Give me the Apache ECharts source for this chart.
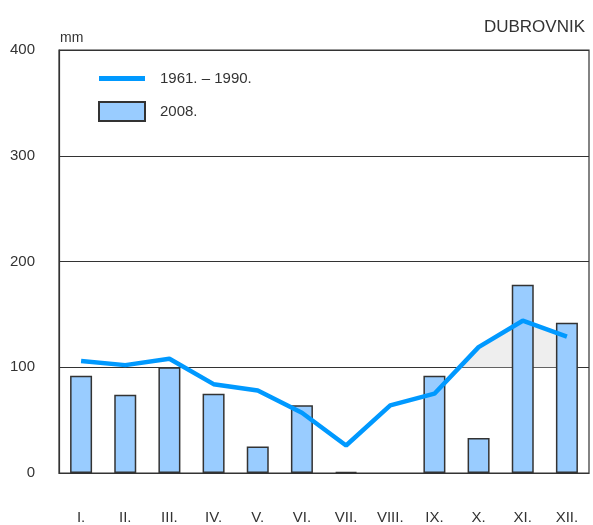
<!DOCTYPE html>
<html>
<head>
<meta charset="utf-8">
<script src="https://cdn.jsdelivr.net/npm/echarts@6/dist/echarts.min.js"></script>
<title>Dubrovnik</title>
<style>
  html, body { margin: 0; padding: 0; background: #fff; }
  #main { width: 593px; height: 525px; }
</style>
</head>
<body>
<div id="main"></div>
<script type="text/javascript">
// podaci
var months = ['I.', 'II.', 'III.', 'IV.', 'V.', 'VI.', 'VII.', 'VIII.', 'IX.', 'X.', 'XI.', 'XII.'];
var normal = [106, 102, 108, 84, 78, 57, 26, 64, 75, 119, 144, 129];  // 1961. - 1990.
var year2008 = [92, 74, 100, 75, 25, 64, 1, null, 92, 33, 178, 142];  // VIII. bez oborine
var yTicks = [0, 100, 200, 300, 400];

// sivo polje gdje je prosjek iznad 100 mm (X. - XII.)
var grey = [];
for (var i = 1; i < normal.length; i++) {
  if (i >= 9 && normal[i - 1] < 100 && normal[i] >= 100) {
    var f = (100 - normal[i - 1]) / (normal[i] - normal[i - 1]);
    grey.push([i - 1 + 0.5 + f, 100]);
  }
  if (i >= 9 && normal[i] >= 100) grey.push([i + 0.5, normal[i]]);
}

var font = 'Liberation Sans, Arial, sans-serif';
var myChart = echarts.init(document.getElementById('main'));

var option = {
  animation: false,
  textStyle: { fontFamily: font },
  title: [
    { text: 'DUBROVNIK', right: 3, top: 14,
      textStyle: { fontSize: 17, fontWeight: 'normal', color: '#333', fontFamily: font } },
    { text: 'mm', left: 55, top: 26,
      textStyle: { fontSize: 14, fontWeight: 'normal', color: '#333', fontFamily: font } }
  ],
  legend: {
    orient: 'vertical',
    left: 98,
    top: 71,
    padding: 0,
    itemWidth: 46,
    itemHeight: 19,
    itemGap: 15,
    textStyle: { fontSize: 15, color: '#333', fontFamily: font, padding: [0, 0, 0, 10] },
    data: [
      { name: '1961. – 1990.', icon: 'path://M0,0H46V5H0Z' },
      { name: '2008.', icon: 'rect' }
    ]
  },
  grid: {
    left: 59, right: 4, top: 50, bottom: 52,
    show: true, borderColor: '#333', borderWidth: 1.2
  },
  xAxis: [{
    type: 'category',
    data: months,
    axisLine: { lineStyle: { color: '#333', width: 1.2 } },
    axisTick: { show: false },
    axisLabel: { margin: 37, fontSize: 15, color: '#333', fontFamily: font }
  }, {
    type: 'value', min: 0, max: 12, show: false
  }],
  yAxis: {
    type: 'value',
    min: yTicks[0], max: yTicks[yTicks.length - 1], interval: 100,
    axisLine: { show: true, lineStyle: { color: '#333', width: 1.2 } },
    axisTick: { show: false },
    axisLabel: { margin: 24, fontSize: 15, color: '#333', fontFamily: font },
    splitLine: { lineStyle: { color: '#333', width: 1.2 } }
  },
  series: [
    {
      name: 'grey',
      type: 'line',
      xAxisIndex: 1,
      data: grey,
      symbol: 'none',
      lineStyle: { width: 0 },
      areaStyle: { color: '#eeeeee', opacity: 1, origin: 100 },
      z: 1,
      silent: true
    },
    {
      name: '2008.',
      type: 'bar',
      data: year2008,
      barWidth: 22,
      itemStyle: { color: '#99ccff', borderColor: '#333', borderWidth: 1.5 },
      z: 2
    },
    {
      name: '1961. – 1990.',
      type: 'line',
      data: normal,
      symbol: 'none',
      lineStyle: { color: '#0099ff', width: 4.5 },
      itemStyle: { color: '#0099ff' },
      z: 3
    }
  ]
};
myChart.setOption(option);
</script>
</body>
</html>
